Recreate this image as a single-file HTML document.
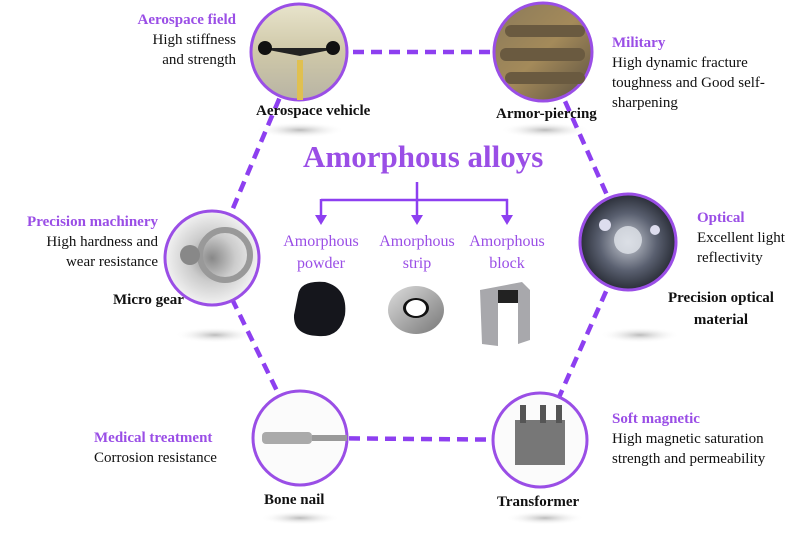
<!DOCTYPE html>
<html><head><style>
body{margin:0;width:800px;height:534px;background:#fff;overflow:hidden;position:relative;font-family:"Liberation Serif",serif}
.t{position:absolute;font-size:15px;color:#111;line-height:20px;white-space:nowrap}
.h{color:#9a4ee6;font-weight:bold;font-size:15px}
.b{position:absolute;font-weight:bold;font-size:15px;color:#111;white-space:nowrap}
.p{position:absolute;color:#9a4ee6;font-size:16px;text-align:center;line-height:22px;width:100px}
</style></head><body>
<svg width="800" height="534" style="position:absolute;left:0;top:0">
<defs>
<radialGradient id="sh"><stop offset="0" stop-color="#bbb"/><stop offset="1" stop-color="#fff" stop-opacity="0"/></radialGradient>
<linearGradient id="aero" x1="0" y1="0" x2="0" y2="1"><stop offset="0" stop-color="#e8e4cc"/><stop offset=".5" stop-color="#cfc8a8"/><stop offset="1" stop-color="#b8b4a4"/></linearGradient>
<linearGradient id="mil" x1="0" y1="0" x2="1" y2="1"><stop offset="0" stop-color="#8a7a5a"/><stop offset=".5" stop-color="#a48a5a"/><stop offset="1" stop-color="#5a5040"/></linearGradient>
<radialGradient id="opt"><stop offset="0" stop-color="#c8ccd4"/><stop offset=".6" stop-color="#5a6070"/><stop offset="1" stop-color="#2a2e38"/></radialGradient>
<radialGradient id="gear"><stop offset="0" stop-color="#888"/><stop offset=".5" stop-color="#ccc"/><stop offset="1" stop-color="#f2f2f2"/></radialGradient>
<linearGradient id="ring" x1="0" y1="0" x2="1" y2="1"><stop offset="0" stop-color="#ddd"/><stop offset="1" stop-color="#777"/></linearGradient>
</defs>
<ellipse cx="300" cy="130" rx="45" ry="8" fill="url(#sh)"/>
<ellipse cx="545" cy="130" rx="45" ry="8" fill="url(#sh)"/>
<ellipse cx="215" cy="335" rx="40" ry="8" fill="url(#sh)"/>
<ellipse cx="640" cy="335" rx="40" ry="8" fill="url(#sh)"/>
<ellipse cx="300" cy="518" rx="40" ry="7" fill="url(#sh)"/>
<ellipse cx="545" cy="518" rx="40" ry="7" fill="url(#sh)"/>
<g stroke="#8d3ff0" stroke-width="4.5" stroke-dasharray="11 7" fill="none">
<line x1="299" y1="52" x2="543" y2="52"/>
<line x1="543" y1="52" x2="628" y2="242"/>
<line x1="628" y1="242" x2="540" y2="440"/>
<line x1="540" y1="440" x2="300" y2="438"/>
<line x1="300" y1="438" x2="212" y2="258"/>
<line x1="212" y1="258" x2="299" y2="52"/>
</g>
<g stroke="#9a4ee6" stroke-width="3">
<circle cx="299" cy="52" r="48" fill="url(#aero)"/>
<circle cx="543" cy="52" r="49" fill="url(#mil)"/>
<circle cx="628" cy="242" r="48" fill="url(#opt)"/>
<circle cx="212" cy="258" r="47" fill="url(#gear)"/>
<circle cx="300" cy="438" r="47" fill="#fbfbfb"/>
<circle cx="540" cy="440" r="47" fill="#fbfbfb"/>
</g>
<path d="M258 48 L340 48 L300 56Z" fill="#222"/><circle cx="265" cy="48" r="7" fill="#111"/><circle cx="333" cy="48" r="7" fill="#111"/><rect x="297" y="60" width="6" height="40" fill="#e0c050"/>
<g fill="#6a5a40"><rect x="505" y="25" width="80" height="12" rx="6"/><rect x="500" y="48" width="85" height="13" rx="6"/><rect x="505" y="72" width="80" height="12" rx="6"/></g>
<circle cx="628" cy="240" r="14" fill="#e0e4ea" opacity=".8"/><circle cx="605" cy="225" r="6" fill="#dde"/><circle cx="655" cy="230" r="5" fill="#dde"/>
<circle cx="225" cy="255" r="25" fill="none" stroke="#999" stroke-width="6"/><circle cx="190" cy="255" r="10" fill="#888"/>
<rect x="262" y="432" width="50" height="12" rx="4" fill="#aaa"/><rect x="312" y="435" width="35" height="6" fill="#999"/>
<rect x="515" y="420" width="50" height="45" fill="#777"/><rect x="520" y="405" width="6" height="18" fill="#555"/><rect x="540" y="405" width="6" height="18" fill="#555"/><rect x="556" y="405" width="6" height="18" fill="#555"/>
<g stroke="#8d3ff0" stroke-width="2.5" fill="#8d3ff0">
<line x1="417" y1="182" x2="417" y2="200"/>
<line x1="321" y1="200" x2="508" y2="200" />
<line x1="321" y1="199" x2="321" y2="216"/><line x1="417" y1="200" x2="417" y2="216"/><line x1="507" y1="199" x2="507" y2="216"/>
<path d="M315 215h12l-6 10z M411 215h12l-6 10z M501 215h12l-6 10z" stroke="none"/>
</g>
<path d="M298 295 Q300 280 325 282 Q348 288 345 315 Q340 338 318 336 Q293 335 294 315Z" fill="#15161c"/>
<ellipse cx="416" cy="310" rx="28" ry="24" fill="url(#ring)"/><ellipse cx="416" cy="308" rx="13" ry="10" fill="#111"/><ellipse cx="416" cy="308" rx="10" ry="8" fill="#fff"/>
<path d="M480 290 L522 282 L530 290 L530 340 L518 344 L518 303 L498 303 L498 346 L482 344Z" fill="#a8a8ac"/><rect x="498" y="290" width="20" height="13" fill="#222"/>
</svg>
<div style="position:absolute;left:303px;top:139px;font-weight:bold;font-size:31px;color:#9a4ee6;white-space:nowrap">Amorphous alloys</div>
<div class="p" style="left:271px;top:231px">Amorphous<br>powder</div>
<div class="p" style="left:367px;top:231px">Amorphous<br>strip</div>
<div class="p" style="left:457px;top:231px">Amorphous<br>block</div>
<div class="t" style="left:126px;top:10px;text-align:right;width:110px"><span class="h">Aerospace field</span><br>High stiffness<br>and strength</div>
<div class="b" style="left:256px;top:103px">Aerospace vehicle</div>
<div class="t" style="left:612px;top:33px"><span class="h">Military</span><br>High dynamic fracture<br>toughness and Good self-<br>sharpening</div>
<div class="b" style="left:496px;top:106px">Armor-piercing</div>
<div class="t" style="left:4px;top:212px;text-align:right;width:154px"><span class="h">Precision machinery</span><br>High hardness and<br>wear resistance</div>
<div class="b" style="left:113px;top:292px">Micro gear</div>
<div class="t" style="left:697px;top:208px"><span class="h">Optical</span><br>Excellent light<br>reflectivity</div>
<div class="b" style="left:668px;top:287px;text-align:center;line-height:22px">Precision optical<br>material</div>
<div class="t" style="left:94px;top:428px"><span class="h">Medical treatment</span><br>Corrosion resistance</div>
<div class="b" style="left:264px;top:492px">Bone nail</div>
<div class="t" style="left:612px;top:409px"><span class="h">Soft magnetic</span><br>High magnetic saturation<br>strength and permeability</div>
<div class="b" style="left:497px;top:494px">Transformer</div>
</body></html>
